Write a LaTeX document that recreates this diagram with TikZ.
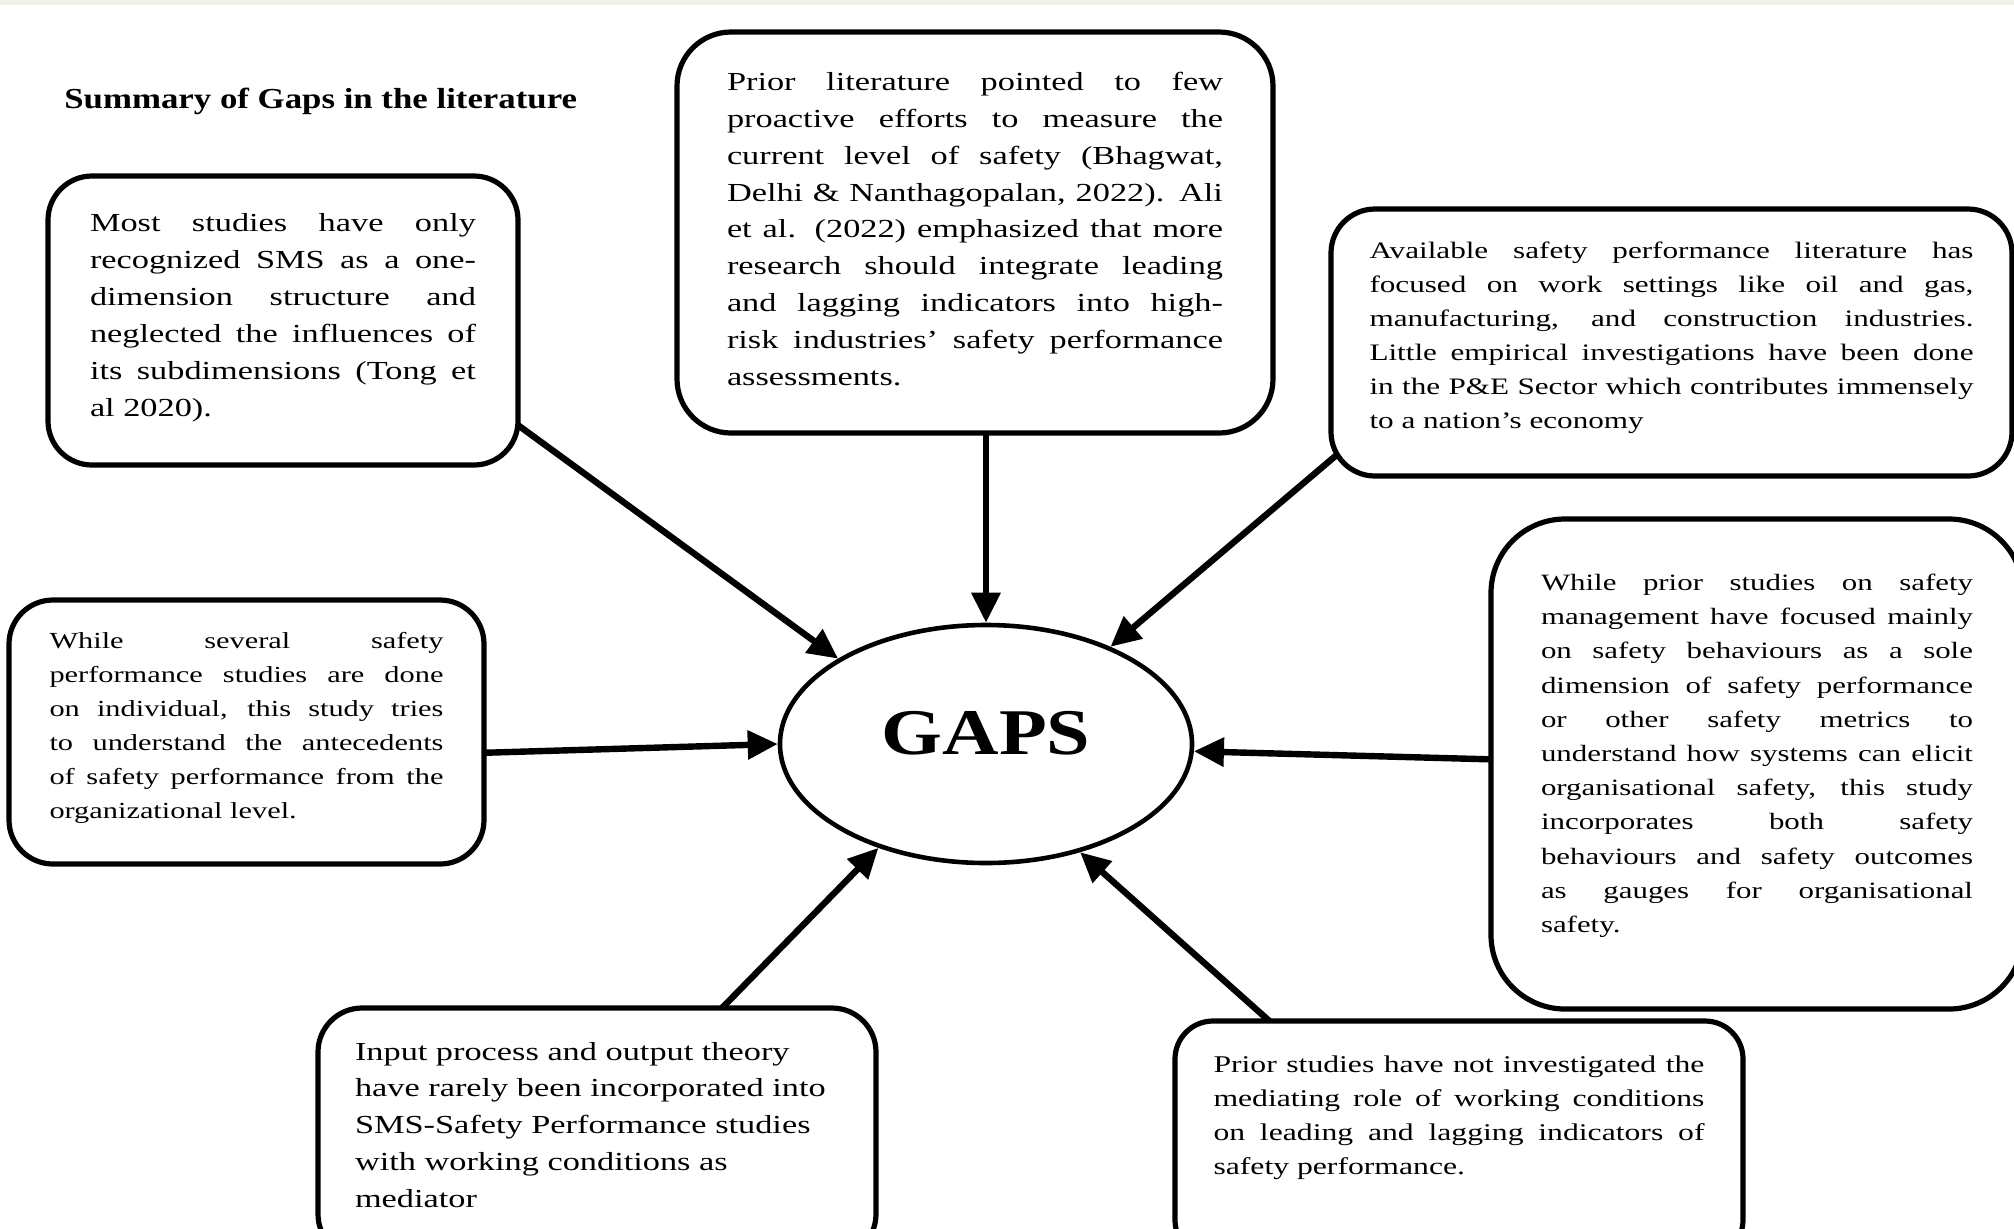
\documentclass[tikz,border=0pt]{standalone}
\usepackage{fontspec}
\usetikzlibrary{positioning,arrows.meta,backgrounds,shapes.geometric}

\newfontfamily\boxfont[FakeStretch=1.32]{Liberation Serif}
\newfontfamily\headfont[FakeStretch=1.2]{Liberation Serif}
\definecolor{paper}{RGB}{242,240,232}

\tolerance=10000
\hbadness=10000
\vbadness=10000
\hyphenpenalty=10000

\begin{document}
\begin{tikzpicture}[x=0.5pt,y=-0.5pt,
    gapbox/.style={draw,line width=2.6pt,fill=white,rounded corners=22pt,
      anchor=north west,outer sep=0pt,font=\boxfont},
    gaps/.style={ellipse,draw,line width=2.3pt,minimum width=206pt,
      minimum height=119pt,inner sep=0pt,text depth=11pt,
      font=\headfont\bfseries\fontsize{32.6pt}{36pt}\selectfont},
    feed/.style={-{Triangle[length=15pt,width=14pt]},line width=3.2pt,
      shorten <=-6pt}]

        \useasboundingbox (0,0) rectangle (2014,1228);

        \node [anchor=base west,inner sep=0pt,
          font=\headfont\bfseries\fontsize{14.5pt}{17pt}\selectfont] (title)
          at (64,108) {Summary of Gaps in the literature};

        \node [gaps] (gaps) at (986,744) {GAPS};

        \node [gapbox,inner xsep=21pt,inner ysep=18.5pt] (box1) at (48,176)
          {\parbox[t][107.5pt][t]{193pt}{\fontsize{13pt}{18.5pt}\selectfont
            Most studies have only\linebreak
            recognized SMS as a one-\linebreak
            dimension structure and\linebreak
            neglected the influences of\linebreak
            its subdimensions (Tong et\linebreak
            al 2020).}};

        \node [gapbox,rounded corners=27pt,inner xsep=25pt,inner ysep=20pt] (box2) at (677,32)
          {\parbox[t][160.5pt][t]{248pt}{\fontsize{13pt}{18.45pt}\selectfont
            Prior literature pointed to few\linebreak
            proactive efforts to measure the\linebreak
            current level of safety (Bhagwat,\linebreak
            Delhi \& Nanthagopalan, 2022). Ali\linebreak
            et al. (2022) emphasized that more\linebreak
            research should integrate leading\linebreak
            and lagging indicators into high-\linebreak
            risk industries’ safety performance\linebreak
            assessments.}};

        \node [gapbox,inner xsep=19.25pt,inner ysep=16.35pt] (box3) at (1331,209)
          {\parbox[t][100.8pt][t]{302pt}{\fontsize{11.8pt}{17pt}\selectfont
            Available safety performance literature has\linebreak
            focused on work settings like oil and gas,\linebreak
            manufacturing, and construction industries.\linebreak
            Little empirical investigations have been done\linebreak
            in the P\&E Sector which contributes immensely\linebreak
            to a nation’s economy}};

        \node [gapbox,inner xsep=20.25pt,inner ysep=16pt] (box4) at (9,600)
          {\parbox[t][100pt][t]{197pt}{\fontsize{11.5pt}{17pt}\selectfont
            While several safety\linebreak
            performance studies are done\linebreak
            on individual, this study tries\linebreak
            to understand the antecedents\linebreak
            of safety performance from the\linebreak
            organizational level.}};

        \node [gapbox,rounded corners=37pt,inner xsep=25pt,inner ysep=27.5pt] (box5) at (1491,519)
          {\parbox[t][190pt][t]{216pt}{\fontsize{11.7pt}{17.1pt}\selectfont
            While prior studies on safety\linebreak
            management have focused mainly\linebreak
            on safety behaviours as a sole\linebreak
            dimension of safety performance\linebreak
            or other safety metrics to\linebreak
            understand how systems can elicit\linebreak
            organisational safety, this study\linebreak
            incorporates both safety\linebreak
            behaviours and safety outcomes\linebreak
            as gauges for organisational\linebreak
            safety.}};

        \node [gapbox,inner xsep=18.5pt,inner ysep=17pt] (box6) at (318,1008)
          {\parbox[t][91pt][t]{242pt}{\raggedright\fontsize{13pt}{18.4pt}\selectfont
            Input process and output theory\\
            have rarely been incorporated into\\
            SMS-Safety Performance studies\\
            with working conditions as\\
            mediator}};

        \node [gapbox,rounded corners=19pt,inner xsep=19.25pt,inner ysep=17.5pt] (box7) at (1175,1021)
          {\parbox[t][83.5pt][t]{245.5pt}{\fontsize{12pt}{17pt}\selectfont
            Prior studies have not investigated the\linebreak
            mediating role of working conditions\linebreak
            on leading and lagging indicators of\linebreak
            safety performance.}};

        % arrows start under the boxes
        \begin{scope}[on background layer]
          \fill [white] (0,0) rectangle (2014,1228);
          \fill [paper] (0,0) rectangle (2014,5);
          \draw [feed] (box1.-24.4) -- (gaps.150.2);
          \draw [feed] (box2.south -| gaps.north) -- (gaps.north);
          \draw [feed] (box3.199.3) -- (gaps.38.8);
          \draw [feed] (box4.-5) -- (gaps.180.6);
          \draw [feed] (box5.179.1) -- (gaps.-2.5);
          \draw [feed] (box6.45.2) -- (gaps.224.4);
          \draw [feed] (box7.148.3) -- (gaps.-49.1);
        \end{scope}
    \end{tikzpicture}
\end{document}
